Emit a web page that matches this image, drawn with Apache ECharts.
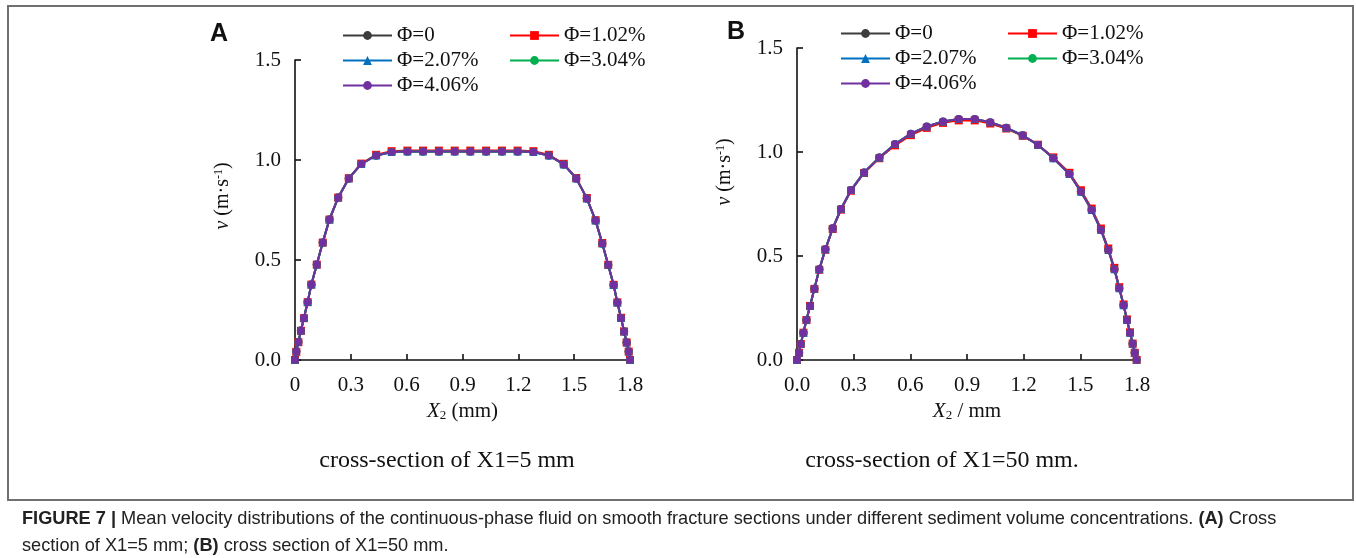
<!DOCTYPE html>
<html>
<head>
<meta charset="utf-8">
<script src="https://cdn.jsdelivr.net/npm/echarts/dist/echarts.min.js"></script>
<style>
  html, body { margin: 0; padding: 0; background: #fff; }
  #chart { width: 1356px; height: 558px; }
</style>
</head>
<body>
<div id="chart"></div>
<script>
// series names
var names = ['Φ=0', 'Φ=1.02%', 'Φ=2.07%', 'Φ=3.04%', 'Φ=4.06%'];
var colors = ['#3c3c3c', '#ff0000', '#0070c0', '#00b050', '#7030a0'];
var symbols = ['circle', 'rect', 'triangle', 'circle', 'circle'];

// panel A : X1 = 5 mm
var xA = [0, 0.007, 0.018, 0.032, 0.048, 0.068, 0.088, 0.117, 0.149, 0.185, 0.232, 0.289, 0.356, 0.436,
  0.519, 0.604, 0.688, 0.773, 0.858, 0.942, 1.027, 1.112, 1.196, 1.281,
  1.364, 1.444, 1.511, 1.568, 1.615, 1.651, 1.683, 1.712, 1.732, 1.752, 1.768, 1.782, 1.793, 1.8];
var a0 = [0, 0.042, 0.09, 0.147, 0.21, 0.29, 0.378, 0.478, 0.588, 0.703, 0.812, 0.908, 0.98, 1.023,
  1.04, 1.043, 1.043, 1.043, 1.043, 1.043, 1.043, 1.043, 1.043, 1.04,
  1.023, 0.978, 0.908, 0.808, 0.697, 0.583, 0.475, 0.375, 0.287, 0.21, 0.143, 0.088, 0.042, 0];
var a102 = [0, 0.041, 0.089, 0.146, 0.209, 0.289, 0.377, 0.477, 0.587, 0.702, 0.812, 0.909, 0.982, 1.026,
  1.044, 1.047, 1.047, 1.047, 1.047, 1.047, 1.047, 1.047, 1.047, 1.044,
  1.026, 0.981, 0.91, 0.81, 0.699, 0.585, 0.476, 0.376, 0.288, 0.211, 0.143, 0.088, 0.042, 0];
var a207 = [0, 0.042, 0.09, 0.147, 0.21, 0.29, 0.378, 0.478, 0.588, 0.703, 0.812, 0.908, 0.98, 1.023,
  1.04, 1.043, 1.043, 1.043, 1.043, 1.043, 1.043, 1.043, 1.043, 1.04,
  1.023, 0.978, 0.908, 0.808, 0.697, 0.583, 0.475, 0.375, 0.287, 0.21, 0.143, 0.088, 0.042, 0];
var a304 = [0, 0.042, 0.09, 0.147, 0.21, 0.29, 0.378, 0.478, 0.588, 0.703, 0.812, 0.908, 0.98, 1.023,
  1.04, 1.043, 1.043, 1.043, 1.043, 1.043, 1.043, 1.043, 1.043, 1.04,
  1.023, 0.978, 0.908, 0.808, 0.697, 0.583, 0.475, 0.375, 0.287, 0.21, 0.143, 0.088, 0.042, 0];
var a406 = [0, 0.042, 0.09, 0.147, 0.21, 0.29, 0.378, 0.478, 0.588, 0.703, 0.812, 0.908, 0.98, 1.023,
  1.04, 1.043, 1.043, 1.043, 1.043, 1.043, 1.043, 1.043, 1.043, 1.04,
  1.023, 0.978, 0.908, 0.808, 0.697, 0.583, 0.475, 0.375, 0.287, 0.21, 0.143, 0.088, 0.042, 0];

// panel B : X1 = 50 mm
var xB = [0, 0.011, 0.02, 0.034, 0.05, 0.069, 0.092, 0.118, 0.15, 0.189, 0.233, 0.286, 0.355, 0.436,
  0.519, 0.603, 0.687, 0.773, 0.856, 0.941, 1.023, 1.108, 1.195, 1.276,
  1.357, 1.442, 1.503, 1.56, 1.609, 1.648, 1.68, 1.706, 1.729, 1.747, 1.763, 1.777, 1.788, 1.798];
var b0 = [0, 0.035, 0.077, 0.131, 0.192, 0.26, 0.343, 0.436, 0.532, 0.633, 0.726, 0.817, 0.902, 0.974,
  1.036, 1.085, 1.12, 1.144, 1.156, 1.156, 1.14, 1.115, 1.079, 1.034,
  0.971, 0.896, 0.811, 0.723, 0.627, 0.531, 0.438, 0.346, 0.264, 0.193, 0.131, 0.078, 0.035, 0];
var b102 = [0, 0.035, 0.077, 0.131, 0.192, 0.26, 0.342, 0.434, 0.53, 0.63, 0.723, 0.814, 0.899, 0.97,
  1.032, 1.081, 1.116, 1.14, 1.152, 1.152, 1.137, 1.113, 1.078, 1.035,
  0.974, 0.9, 0.816, 0.728, 0.632, 0.536, 0.443, 0.35, 0.267, 0.195, 0.133, 0.079, 0.035, 0];
var b207 = [0, 0.035, 0.077, 0.131, 0.192, 0.26, 0.343, 0.436, 0.532, 0.633, 0.726, 0.817, 0.902, 0.974,
  1.038, 1.088, 1.123, 1.147, 1.159, 1.159, 1.143, 1.117, 1.08, 1.034,
  0.97, 0.894, 0.809, 0.721, 0.625, 0.529, 0.436, 0.345, 0.263, 0.192, 0.131, 0.078, 0.035, 0];
var b304 = [0, 0.035, 0.077, 0.131, 0.192, 0.26, 0.343, 0.436, 0.532, 0.633, 0.726, 0.817, 0.902, 0.974,
  1.038, 1.088, 1.123, 1.147, 1.159, 1.159, 1.143, 1.117, 1.08, 1.034,
  0.97, 0.894, 0.809, 0.721, 0.625, 0.529, 0.436, 0.345, 0.263, 0.192, 0.131, 0.078, 0.035, 0];
var b406 = [0, 0.035, 0.077, 0.131, 0.192, 0.26, 0.343, 0.436, 0.532, 0.633, 0.726, 0.817, 0.902, 0.974,
  1.038, 1.088, 1.123, 1.147, 1.159, 1.159, 1.143, 1.117, 1.08, 1.034,
  0.97, 0.894, 0.809, 0.721, 0.625, 0.529, 0.436, 0.345, 0.263, 0.192, 0.131, 0.078, 0.035, 0];

var seriesA = [a0, a102, a207, a304, a406];
var seriesB = [b0, b102, b207, b304, b406];

var serif = '"Liberation Serif", "Times New Roman", serif';
var sans = '"Liberation Sans", Arial, sans-serif';

function zip(xs, ys) {
  var out = [];
  for (var i = 0; i < xs.length; i++) out.push([xs[i], ys[i]]);
  return out;
}

function xAxisOf(idx, nameFmt, zeroLabel) {
  return {
    gridIndex: idx, type: 'value', min: 0, max: 1.8, interval: 0.3,
    name: nameFmt, nameLocation: 'middle', nameGap: 34,
    nameTextStyle: {
      fontFamily: serif, fontSize: 21, color: '#111',
      rich: {
        i: { fontFamily: serif, fontSize: 21, fontStyle: 'italic', color: '#111' },
        sub: { fontFamily: serif, fontSize: 13, color: '#111', verticalAlign: 'bottom', padding: [8, 0, 0, 0] }
      }
    },
    axisLine: { lineStyle: { color: '#111', width: 1.6 } },
    axisTick: { inside: true, length: 6, lineStyle: { color: '#111', width: 1.6 } },
    axisLabel: {
      margin: 15, fontFamily: serif, fontSize: 21, color: '#111',
      formatter: function (v) { return v === 0 ? zeroLabel : v.toFixed(1); }
    },
    splitLine: { show: false }
  };
}

function yAxisOf(idx, pad) {
  return {
    gridIndex: idx, type: 'value', min: 0, max: 1.5, interval: 0.5,
    name: '{i|v} (m·s{sup|-1})', nameLocation: 'middle', nameGap: 62, nameRotate: 90,
    nameTextStyle: {
      fontFamily: serif, fontSize: 20, color: '#111', padding: [0, 0, 0, pad],
      rich: {
        i: { fontFamily: serif, fontSize: 20, fontStyle: 'italic', color: '#111' },
        sup: { fontFamily: serif, fontSize: 12, color: '#111', verticalAlign: 'top', padding: [0, 0, 8, 0] }
      }
    },
    axisLine: { lineStyle: { color: '#111', width: 1.6 } },
    axisTick: { inside: true, length: 6, lineStyle: { color: '#111', width: 1.6 } },
    axisLabel: {
      margin: 14, fontFamily: serif, fontSize: 21, color: '#111',
      formatter: function (v) { return v.toFixed(1); }
    },
    splitLine: { show: false }
  };
}

function legendOf(id, left, top) {
  return {
    id: id, left: left, top: top, width: 330, orient: 'horizontal',
    itemWidth: 49, itemHeight: 11, itemGap: 4,
    data: names.map(function (n) { return n; }),
    textStyle: { fontFamily: serif, fontSize: 21, color: '#111', width: 108, lineHeight: 20 }
  };
}

var series = [];
for (var k = 0; k < 5; k++) {
  var common = {
    type: 'line', name: names[k], symbol: symbols[k], symbolSize: 8,
    lineStyle: { color: colors[k], width: 2 },
    itemStyle: { color: colors[k] },
    z: 2 + k, animation: false
  };
  series.push(Object.assign({}, common, { xAxisIndex: 0, yAxisIndex: 0, data: zip(xA, seriesA[k]) }));
  series.push(Object.assign({}, common, { xAxisIndex: 1, yAxisIndex: 1, data: zip(xB, seriesB[k]) }));
}

var chart = echarts.init(document.getElementById('chart'));
chart.setOption({
  backgroundColor: '#fff',
  animation: false,
  legend: [legendOf('la', 337, 20), legendOf('lb', 835, 18)],
  grid: [
    { left: 295, top: 60, width: 335, height: 300 },
    { left: 797, top: 48, width: 340, height: 312 }
  ],
  xAxis: [
    xAxisOf(0, '{i|X}{sub|2} (mm)', '0'),
    xAxisOf(1, '{i|X}{sub|2} / mm', '0.0')
  ],
  yAxis: [yAxisOf(0, 28), yAxisOf(1, 64)],
  series: series,
  graphic: [
    { type: 'rect', shape: { x: 8, y: 6, width: 1345, height: 494 }, style: { fill: 'none', stroke: '#707070', lineWidth: 2 } },
    { type: 'text', left: 210, top: 22, style: { text: 'A', font: 'bold 25px ' + sans, fill: '#111' } },
    { type: 'text', left: 727, top: 20, style: { text: 'B', font: 'bold 25px ' + sans, fill: '#111' } },
    { type: 'text', x: 447, y: 461, style: { text: 'cross-section of X1=5 mm', font: '24px ' + serif, fill: '#111', textAlign: 'center', textVerticalAlign: 'middle' } },
    { type: 'text', x: 942, y: 461, style: { text: 'cross-section of X1=50 mm.', font: '24px ' + serif, fill: '#111', textAlign: 'center', textVerticalAlign: 'middle' } },
    {
      type: 'text', x: 22, y: 519,
      style: {
        text: '{b|FIGURE 7 |} Mean velocity distributions of the continuous-phase fluid on smooth fracture sections under different sediment volume concentrations. {b|(A)} Cross',
        font: '18.2px ' + sans, fill: '#222', textVerticalAlign: 'middle',
        rich: { b: { font: 'bold 18.2px ' + sans, fill: '#222' } }
      }
    },
    {
      type: 'text', x: 22, y: 546,
      style: {
        text: 'section of X1=5 mm; {b|(B)} cross section of X1=50 mm.',
        font: '18.2px ' + sans, fill: '#222', textVerticalAlign: 'middle',
        rich: { b: { font: 'bold 18.2px ' + sans, fill: '#222' } }
      }
    }
  ]
});
</script>
</body>
</html>
